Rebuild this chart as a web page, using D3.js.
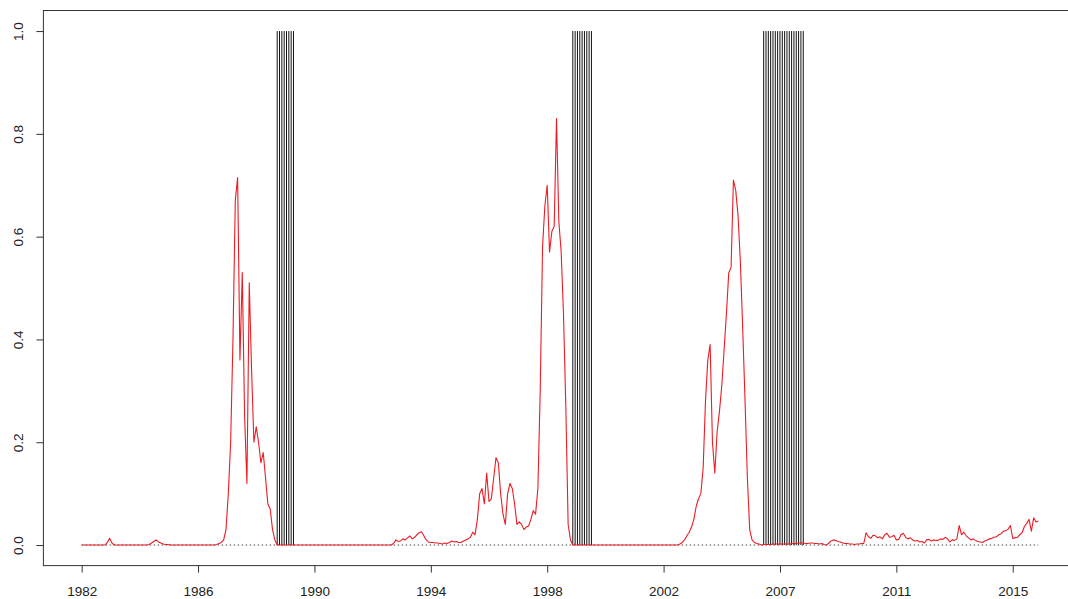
<!DOCTYPE html>
<html>
<head>
<meta charset="utf-8">
<script src="https://cdn.jsdelivr.net/npm/d3@7"></script>
<style>
	body { margin: 0; background: #fff; }
	text { font-family: "Liberation Sans", Arial, sans-serif; }
</style>
</head>
<body>
<div id="chart"></div>
<script>
// monthly probability, Jan 1982 .. Apr 2016 (one row per year)
var probability = [
	0,0,0,0,0,0,0,0,0,0,0,0.005,
	0.013,0.004,0,0,0,0,0,0,0,0,0,0,
	0,0,0,0,0,0.001,0.004,0.007,0.01,0.006,0.004,0.002,
	0.001,0.001,0,0,0,0,0,0,0,0,0,0,
	0,0,0,0,0,0,0,0,0,0,0.001,0.003,
	0.005,0.01,0.03,0.1,0.2,0.4,0.67,0.715,0.36,0.53,0.25,0.12,
	0.51,0.34,0.2,0.23,0.2,0.16,0.18,0.13,0.08,0.07,0.03,0.01,
	0,0,0,0,0,0,0,0,0,0,0,0,
	0,0,0,0,0,0,0,0,0,0,0,0,
	0,0,0,0,0,0,0,0,0,0,0,0,
	0,0,0,0,0,0,0,0,0,0,0,0,
	0,0,0.003,0.01,0.007,0.008,0.012,0.01,0.014,0.018,0.012,0.015,
	0.02,0.024,0.026,0.018,0.01,0.006,0.005,0.005,0.004,0.004,0.003,0.002,
	0.004,0.003,0.005,0.008,0.006,0.007,0.005,0.005,0.008,0.01,0.012,0.015,
	0.025,0.02,0.05,0.1,0.11,0.08,0.14,0.085,0.09,0.13,0.17,0.16,
	0.1,0.06,0.04,0.1,0.12,0.11,0.08,0.04,0.045,0.04,0.03,0.035,
	0.037,0.05,0.067,0.06,0.11,0.3,0.58,0.66,0.7,0.57,0.61,0.62,
	0.83,0.63,0.57,0.45,0.27,0.04,0.01,0,0,0,0,0,
	0,0,0,0,0,0,0,0,0,0,0,0,
	0,0,0,0,0,0,0,0,0,0,0,0,
	0,0,0,0,0,0,0,0,0,0,0,0,
	0,0,0,0,0,0.002,0.005,0.01,0.018,0.025,0.035,0.05,
	0.075,0.09,0.1,0.15,0.28,0.36,0.39,0.2,0.14,0.22,0.26,0.31,
	0.38,0.45,0.53,0.54,0.71,0.69,0.64,0.55,0.42,0.28,0.13,0.03,
	0.01,0.005,0.003,0.002,0,0.001,0.001,0.001,0.001,0.002,0.002,0.002,
	0.002,0.002,0.002,0.002,0.002,0.003,0.003,0.003,0.004,0.004,0.004,0.003,
	0.003,0.004,0.004,0.003,0.003,0.002,0.003,0.001,0,0.004,0.008,0.01,
	0.009,0.007,0.006,0.004,0.003,0.003,0.002,0.002,0.001,0.002,0.002,0.003,
	0.003,0.024,0.016,0.013,0.019,0.018,0.014,0.016,0.012,0.02,0.023,0.015,
	0.016,0.019,0.01,0.011,0.02,0.023,0.015,0.012,0.014,0.01,0.008,0.009,
	0.006,0.007,0.004,0.01,0.011,0.008,0.01,0.009,0.009,0.012,0.011,0.015,
	0.012,0.006,0.01,0.009,0.012,0.038,0.02,0.025,0.018,0.014,0.01,0.012,
	0.009,0.007,0.006,0.005,0.008,0.01,0.012,0.013,0.015,0.016,0.02,0.022,
	0.027,0.028,0.031,0.038,0.013,0.014,0.015,0.02,0.024,0.036,0.042,0.05,
	0.027,0.053,0.045,0.047
];

// months (index from Jan 1982) where the signal is on
var signalMonths = [
	84,85,86,87,88,89,90,91,
	211,212,213,214,215,216,217,218,219,
	293,294,295,296,297,298,299,300,301,302,303,304,305,306,307,308,309,310
];

var tickIndex = [0, 50, 100, 150, 200, 250, 300, 350, 400];
var tickLabels = ["1982", "1986", "1990", "1994", "1998", "2002", "2007", "2011", "2015"];
var yTicks = [0, 0.2, 0.4, 0.6, 0.8, 1.0];

var n = probability.length;

var svg = d3.select("#chart")
	.append("svg")
	.attr("width", 1068)
	.attr("height", 599);

// R style 4% padding on both axes
var x = d3.scaleLinear()
	.domain([-0.04 * (n - 1), 1.04 * (n - 1)])
	.range([43.4, 1076.6]);

var y = d3.scaleLinear()
	.domain([-0.04, 1.04])
	.range([565.6, 10.5]);

// signal bars (type = "h")
svg.selectAll(".signal")
	.data(signalMonths)
	.enter()
	.append("line")
	.attr("class", "signal")
	.attr("x1", d => x(d))
	.attr("x2", d => x(d))
	.attr("y1", y(0))
	.attr("y2", y(1))
	.attr("stroke", "#111")
	.attr("stroke-width", 1);

// dotted zero line
svg.append("line")
	.attr("x1", x(0))
	.attr("x2", x(n - 1))
	.attr("y1", y(0))
	.attr("y2", y(0))
	.attr("stroke", "#444")
	.attr("stroke-width", 1)
	.attr("stroke-dasharray", "1.5,2.5");

var line = d3.line()
	.x((d, i) => x(i))
	.y(d => y(d));

svg.append("path")
	.datum(probability)
	.attr("d", line)
	.attr("fill", "none")
	.attr("stroke", "#ec1c24")
	.attr("stroke-width", 1.1)
	.attr("stroke-linejoin", "round");

// box
svg.append("rect")
	.attr("x", x.range()[0])
	.attr("y", y.range()[1])
	.attr("width", x.range()[1] - x.range()[0])
	.attr("height", y.range()[0] - y.range()[1])
	.attr("fill", "none")
	.attr("stroke", "#333")
	.attr("stroke-width", 1);

var xAxis = svg.append("g")
	.attr("transform", "translate(0," + y.range()[0] + ")")
	.call(d3.axisBottom(x)
		.tickValues(tickIndex)
		.tickFormat((d, i) => tickLabels[i])
		.tickSize(7));
xAxis.select(".domain").remove();
xAxis.selectAll("line").attr("stroke", "#333");
xAxis.selectAll("text")
	.attr("y", 30)
	.attr("dy", 0)
	.style("font-size", "13.5px")
	.attr("fill", "#222");

var yAxis = svg.append("g")
	.attr("transform", "translate(" + x.range()[0] + ",0)")
	.call(d3.axisLeft(y)
		.tickValues(yTicks)
		.tickFormat(d3.format(".1f"))
		.tickSize(7));
yAxis.select(".domain").remove();
yAxis.selectAll("line").attr("stroke", "#333");
yAxis.selectAll("text")
	.attr("transform", "rotate(-90)")
	.attr("x", 0)
	.attr("y", -20)
	.attr("dy", 0)
	.style("text-anchor", "middle")
	.style("font-size", "13.5px")
	.attr("fill", "#222");
</script>
</body>
</html>
